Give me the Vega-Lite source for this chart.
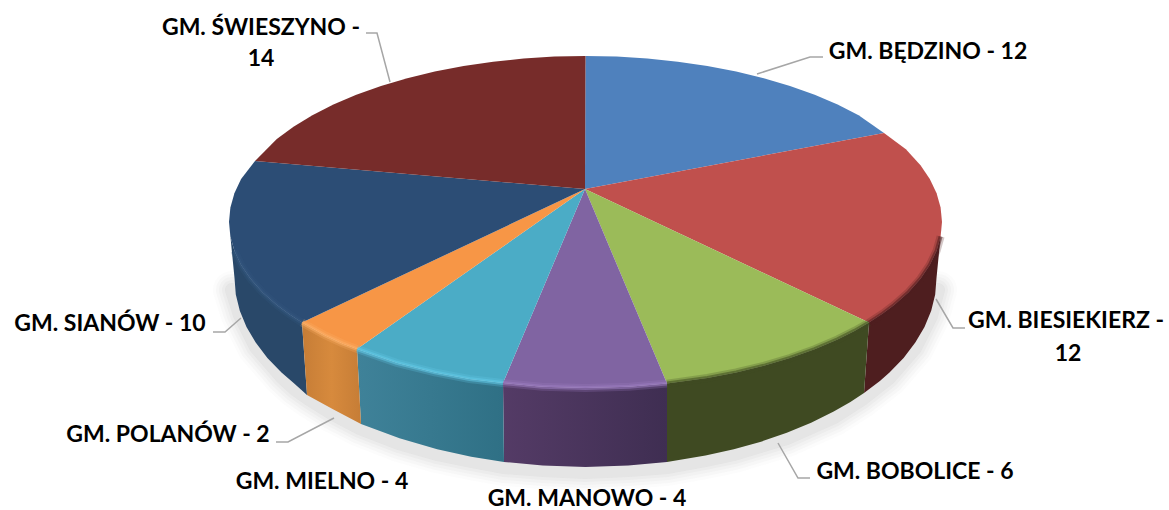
{"$schema":"https://vega.github.io/schema/vega-lite/v6.json","width":1169,"height":510,"padding":0,"autosize":{"type":"none"},"background":"white","config":{"view":{"stroke":null}},
"datasets":{
"shadow":[{"o":1,"x":232,"y":290},{"o":2,"x":240,"y":315},{"o":3,"x":256,"y":347},{"o":4,"x":282,"y":377},{"o":4.5,"x":295,"y":389},{"o":5,"x":309,"y":399},{"o":5.5,"x":333,"y":414},{"o":6,"x":360,"y":428},{"o":6.5,"x":399,"y":443},{"o":7,"x":437,"y":454},{"o":7.5,"x":471,"y":461},{"o":8,"x":504,"y":467},{"o":8.5,"x":543,"y":470},{"o":9,"x":585,"y":472},{"o":9.5,"x":628,"y":470},{"o":10,"x":667,"y":467},{"o":10.5,"x":705,"y":460},{"o":11,"x":734,"y":454},{"o":12,"x":787,"y":438},{"o":13,"x":834,"y":417},{"o":13.5,"x":862,"y":399},{"o":14,"x":889,"y":378},{"o":15,"x":915,"y":348},{"o":16,"x":931,"y":316},{"o":17,"x":938,"y":290}],
"wall":[
{"slice":"red","o":0,"x":942,"y":222},{"slice":"red","o":5,"x":940.6,"y":236.5},{"slice":"red","o":10,"x":936.6,"y":250.8},{"slice":"red","o":15,"x":929.8,"y":265},{"slice":"red","o":20,"x":920.5,"y":278.8},{"slice":"red","o":25,"x":908.6,"y":292.2},{"slice":"red","o":30,"x":894.2,"y":305},{"slice":"red","o":33.5,"x":882.8,"y":313.6},{"slice":"red","o":37,"x":869,"y":322.6},{"slice":"red","o":962.6,"x":864,"y":393},{"slice":"red","o":967,"x":879.9,"y":380.9},{"slice":"red","o":970,"x":889.5,"y":372.5},{"slice":"red","o":975,"x":903.6,"y":357.9},{"slice":"red","o":980,"x":915.3,"y":342.6},{"slice":"red","o":985,"x":924.5,"y":326.9},{"slice":"red","o":990,"x":931.2,"y":310.8},{"slice":"red","o":995,"x":935.2,"y":294.5},{"slice":"red","o":1000,"x":936.5,"y":278},
{"slice":"green","o":37,"x":869,"y":322.6},{"slice":"green","o":41,"x":854.5,"y":330.9},{"slice":"green","o":45,"x":837.6,"y":339.4},{"slice":"green","o":50,"x":814.7,"y":349.2},{"slice":"green","o":55,"x":790,"y":358},{"slice":"green","o":60,"x":763.8,"y":365.8},{"slice":"green","o":65,"x":736.2,"y":372.4},{"slice":"green","o":70,"x":707.4,"y":378},{"slice":"green","o":76.8,"x":667,"y":383.6},{"slice":"green","o":923,"x":667,"y":461.9},{"slice":"green","o":930,"x":705.5,"y":455.6},{"slice":"green","o":935,"x":733.8,"y":449.3},{"slice":"green","o":940,"x":761,"y":441.7},{"slice":"green","o":945,"x":786.8,"y":432.8},{"slice":"green","o":950,"x":811.1,"y":422.8},{"slice":"green","o":955,"x":833.7,"y":411.6},{"slice":"green","o":959,"x":850.4,"y":402},{"slice":"green","o":962.6,"x":864,"y":393},
{"slice":"purple","o":76.8,"x":667,"y":383.6},{"slice":"purple","o":83,"x":629,"y":386.8},{"slice":"purple","o":90,"x":585.5,"y":388},{"slice":"purple","o":97,"x":542,"y":386.8},{"slice":"purple","o":103.4,"x":503,"y":383},{"slice":"purple","o":896.6,"x":504,"y":462},{"slice":"purple","o":903,"x":542.7,"y":465.6},{"slice":"purple","o":910,"x":585.5,"y":467},{"slice":"purple","o":917,"x":628.3,"y":465.6},{"slice":"purple","o":923,"x":667,"y":461.9},
{"slice":"teal","o":103.4,"x":503,"y":383},{"slice":"teal","o":109,"x":469.4,"y":379},{"slice":"teal","o":115,"x":434.8,"y":372.4},{"slice":"teal","o":122,"x":396.6,"y":362.8},{"slice":"teal","o":129.9,"x":357,"y":349},{"slice":"teal","o":870,"x":361,"y":424},{"slice":"teal","o":878,"x":399.5,"y":438.3},{"slice":"teal","o":885,"x":437.2,"y":449.3},{"slice":"teal","o":891,"x":471.2,"y":456.7},{"slice":"teal","o":896.6,"x":504,"y":462},
{"slice":"orange","o":129.9,"x":357,"y":349},{"slice":"orange","o":133,"x":342.4,"y":343.4},{"slice":"orange","o":137,"x":324.8,"y":335.2},{"slice":"orange","o":142.7,"x":302,"y":322.6},{"slice":"orange","o":858,"x":307,"y":395},{"slice":"orange","o":864,"x":333,"y":409.3},{"slice":"orange","o":870,"x":361,"y":424},
{"slice":"navy","o":142.7,"x":302,"y":322.6},{"slice":"navy","o":146,"x":290,"y":314.8},{"slice":"navy","o":150,"x":276.8,"y":305},{"slice":"navy","o":155,"x":262.4,"y":292.2},{"slice":"navy","o":160,"x":250.5,"y":278.8},{"slice":"navy","o":165,"x":241.1,"y":265},{"slice":"navy","o":170,"x":234.4,"y":250.8},{"slice":"navy","o":175,"x":230.4,"y":236.5},{"slice":"navy","o":180,"x":229,"y":222},{"slice":"navy","o":820,"x":234.5,"y":278},{"slice":"navy","o":825,"x":235.8,"y":294.5},{"slice":"navy","o":830,"x":239.8,"y":310.8},{"slice":"navy","o":835,"x":246.5,"y":326.9},{"slice":"navy","o":840,"x":255.7,"y":342.6},{"slice":"navy","o":845,"x":267.4,"y":357.9},{"slice":"navy","o":850,"x":281.5,"y":372.5},{"slice":"navy","o":854,"x":294.5,"y":383.7},{"slice":"navy","o":858,"x":307,"y":395}
],
"face":[
{"slice":"blue","o":-999,"x":585,"y":189},{"slice":"blue","o":-90,"x":585.5,"y":56},{"slice":"blue","o":-85,"x":616.6,"y":56.6},{"slice":"blue","o":-80,"x":647.4,"y":58.5},{"slice":"blue","o":-75,"x":677.8,"y":61.7},{"slice":"blue","o":-70,"x":707.4,"y":66},{"slice":"blue","o":-65,"x":736.2,"y":71.6},{"slice":"blue","o":-60,"x":763.8,"y":78.2},{"slice":"blue","o":-55,"x":790,"y":86},{"slice":"blue","o":-50,"x":814.7,"y":94.8},{"slice":"blue","o":-45,"x":837.6,"y":104.6},{"slice":"blue","o":-40,"x":858.6,"y":115.3},{"slice":"blue","o":-33,"x":884,"y":133},
{"slice":"red","o":-999,"x":585,"y":189},{"slice":"red","o":-33,"x":884,"y":133},{"slice":"red","o":-26,"x":905.9,"y":149.2},{"slice":"red","o":-20,"x":920.5,"y":165.2},{"slice":"red","o":-15,"x":929.8,"y":179},{"slice":"red","o":-10,"x":936.6,"y":193.2},{"slice":"red","o":-5,"x":940.6,"y":207.5},{"slice":"red","o":0,"x":942,"y":222},{"slice":"red","o":5,"x":940.6,"y":236.5},{"slice":"red","o":10,"x":936.6,"y":250.8},{"slice":"red","o":15,"x":929.8,"y":265},{"slice":"red","o":20,"x":920.5,"y":278.8},{"slice":"red","o":25,"x":908.6,"y":292.2},{"slice":"red","o":30,"x":894.2,"y":305},{"slice":"red","o":33.5,"x":882.8,"y":313.6},{"slice":"red","o":37,"x":869,"y":322.6},
{"slice":"green","o":-999,"x":585,"y":189},{"slice":"green","o":37,"x":869,"y":322.6},{"slice":"green","o":41,"x":854.5,"y":330.9},{"slice":"green","o":45,"x":837.6,"y":339.4},{"slice":"green","o":50,"x":814.7,"y":349.2},{"slice":"green","o":55,"x":790,"y":358},{"slice":"green","o":60,"x":763.8,"y":365.8},{"slice":"green","o":65,"x":736.2,"y":372.4},{"slice":"green","o":70,"x":707.4,"y":378},{"slice":"green","o":76.8,"x":667,"y":383.6},
{"slice":"purple","o":-999,"x":585,"y":189},{"slice":"purple","o":76.8,"x":667,"y":383.6},{"slice":"purple","o":83,"x":629,"y":386.8},{"slice":"purple","o":90,"x":585.5,"y":388},{"slice":"purple","o":97,"x":542,"y":386.8},{"slice":"purple","o":103.4,"x":503,"y":383},
{"slice":"teal","o":-999,"x":585,"y":189},{"slice":"teal","o":103.4,"x":503,"y":383},{"slice":"teal","o":109,"x":469.4,"y":379},{"slice":"teal","o":115,"x":434.8,"y":372.4},{"slice":"teal","o":122,"x":396.6,"y":362.8},{"slice":"teal","o":129.9,"x":357,"y":349},
{"slice":"orange","o":-999,"x":585,"y":189},{"slice":"orange","o":129.9,"x":357,"y":349},{"slice":"orange","o":133,"x":342.4,"y":343.4},{"slice":"orange","o":137,"x":324.8,"y":335.2},{"slice":"orange","o":142.7,"x":302,"y":322.6},
{"slice":"navy","o":-999,"x":585,"y":189},{"slice":"navy","o":142.7,"x":302,"y":322.6},{"slice":"navy","o":146,"x":290,"y":314.8},{"slice":"navy","o":150,"x":276.8,"y":305},{"slice":"navy","o":155,"x":262.4,"y":292.2},{"slice":"navy","o":160,"x":250.5,"y":278.8},{"slice":"navy","o":165,"x":241.1,"y":265},{"slice":"navy","o":170,"x":234.4,"y":250.8},{"slice":"navy","o":175,"x":230.4,"y":236.5},{"slice":"navy","o":180,"x":229,"y":222},{"slice":"navy","o":185,"x":230.4,"y":207.5},{"slice":"navy","o":190,"x":234.4,"y":193.2},{"slice":"navy","o":195,"x":241.1,"y":179},{"slice":"navy","o":202,"x":255,"y":161},
{"slice":"maroon","o":-999,"x":585,"y":189},{"slice":"maroon","o":202,"x":255,"y":161},{"slice":"maroon","o":210,"x":276.8,"y":139},{"slice":"maroon","o":215,"x":293.5,"y":126.8},{"slice":"maroon","o":220,"x":312.4,"y":115.3},{"slice":"maroon","o":225,"x":333.4,"y":104.6},{"slice":"maroon","o":230,"x":356.3,"y":94.8},{"slice":"maroon","o":235,"x":381,"y":86},{"slice":"maroon","o":240,"x":407.3,"y":78.2},{"slice":"maroon","o":245,"x":434.8,"y":71.6},{"slice":"maroon","o":250,"x":463.6,"y":66},{"slice":"maroon","o":255,"x":493.2,"y":61.7},{"slice":"maroon","o":260,"x":523.6,"y":58.5},{"slice":"maroon","o":265,"x":554.4,"y":56.6},{"slice":"maroon","o":270,"x":585.5,"y":56}
],
"rim":[
{"slice":"red","o":5,"x":940.6,"y":236.5},{"slice":"red","o":10,"x":936.6,"y":250.8},{"slice":"red","o":15,"x":929.8,"y":265},{"slice":"red","o":20,"x":920.5,"y":278.8},{"slice":"red","o":25,"x":908.6,"y":292.2},{"slice":"red","o":30,"x":894.2,"y":305},{"slice":"red","o":33.5,"x":882.8,"y":313.6},{"slice":"red","o":37,"x":869,"y":322.6},
{"slice":"green","o":37,"x":869,"y":322.6},{"slice":"green","o":41,"x":854.5,"y":330.9},{"slice":"green","o":45,"x":837.6,"y":339.4},{"slice":"green","o":50,"x":814.7,"y":349.2},{"slice":"green","o":55,"x":790,"y":358},{"slice":"green","o":60,"x":763.8,"y":365.8},{"slice":"green","o":65,"x":736.2,"y":372.4},{"slice":"green","o":70,"x":707.4,"y":378},{"slice":"green","o":76.8,"x":667,"y":383.6},
{"slice":"purple","o":76.8,"x":667,"y":383.6},{"slice":"purple","o":83,"x":629,"y":386.8},{"slice":"purple","o":90,"x":585.5,"y":388},{"slice":"purple","o":97,"x":542,"y":386.8},{"slice":"purple","o":103.4,"x":503,"y":383},
{"slice":"teal","o":103.4,"x":503,"y":383},{"slice":"teal","o":109,"x":469.4,"y":379},{"slice":"teal","o":115,"x":434.8,"y":372.4},{"slice":"teal","o":122,"x":396.6,"y":362.8},{"slice":"teal","o":129.9,"x":357,"y":349},
{"slice":"orange","o":129.9,"x":357,"y":349},{"slice":"orange","o":133,"x":342.4,"y":343.4},{"slice":"orange","o":137,"x":324.8,"y":335.2},{"slice":"orange","o":142.7,"x":302,"y":322.6},
{"slice":"navy","o":142.7,"x":302,"y":322.6},{"slice":"navy","o":146,"x":290,"y":314.8},{"slice":"navy","o":150,"x":276.8,"y":305},{"slice":"navy","o":155,"x":262.4,"y":292.2},{"slice":"navy","o":160,"x":250.5,"y":278.8},{"slice":"navy","o":165,"x":241.1,"y":265},{"slice":"navy","o":170,"x":234.4,"y":250.8}
],
"leaders":[
{"g":"b","o":1,"x":757,"y":74},{"g":"b","o":2,"x":810,"y":57},{"g":"b","o":3,"x":823,"y":57},
{"g":"c","o":1,"x":936,"y":299},{"g":"c","o":2,"x":953,"y":328},{"g":"c","o":3,"x":965,"y":328},
{"g":"d","o":1,"x":778,"y":443},{"g":"d","o":2,"x":798,"y":478},{"g":"d","o":3,"x":810,"y":478},
{"g":"e","o":1,"x":241,"y":318},{"g":"e","o":2,"x":225,"y":332},{"g":"e","o":3,"x":213,"y":332},
{"g":"f","o":1,"x":334,"y":418},{"g":"f","o":2,"x":288,"y":442},{"g":"f","o":3,"x":276,"y":442},
{"g":"a","o":1,"x":390,"y":82},{"g":"a","o":2,"x":377,"y":33},{"g":"a","o":3,"x":366,"y":33}
],
"labels":[
{"gmina":"GM. BĘDZINO","value":12,"line":"GM. BĘDZINO - 12","x":928,"y":52},
{"gmina":"GM. BIESIEKIERZ","value":12,"line":"GM. BIESIEKIERZ -","x":1066,"y":321},
{"gmina":"GM. BIESIEKIERZ","value":12,"line":"12","x":1068,"y":354},
{"gmina":"GM. BOBOLICE","value":6,"line":"GM. BOBOLICE - 6","x":915,"y":472},
{"gmina":"GM. MANOWO","value":4,"line":"GM. MANOWO - 4","x":587,"y":499},
{"gmina":"GM. MIELNO","value":4,"line":"GM. MIELNO - 4","x":322,"y":482},
{"gmina":"GM. POLANÓW","value":2,"line":"GM. POLANÓW - 2","x":168,"y":435},
{"gmina":"GM. SIANÓW","value":10,"line":"GM. SIANÓW - 10","x":110,"y":324},
{"gmina":"GM. ŚWIESZYNO","value":14,"line":"GM. ŚWIESZYNO -","x":261,"y":28},
{"gmina":"GM. ŚWIESZYNO","value":14,"line":"14","x":261,"y":59}
]},
"encoding":{"x":{"field":"x","type":"quantitative","scale":{"domain":[0,1169]},"axis":null},"y":{"field":"y","type":"quantitative","scale":{"domain":[510,0]},"axis":null}},
"resolve":{"scale":{"fill":"independent","stroke":"independent"}},
"layer":[
{"data":{"name":"shadow"},"mark":{"type":"line","stroke":"#606060","strokeWidth":38,"opacity":0.02,"strokeCap":"round"},"encoding":{"order":{"field":"o"}}},
{"data":{"name":"shadow"},"mark":{"type":"line","stroke":"#606060","strokeWidth":32,"opacity":0.03,"strokeCap":"round"},"encoding":{"order":{"field":"o"}}},
{"data":{"name":"shadow"},"mark":{"type":"line","stroke":"#606060","strokeWidth":26,"opacity":0.03,"strokeCap":"round"},"encoding":{"order":{"field":"o"}}},
{"data":{"name":"shadow"},"mark":{"type":"line","stroke":"#606060","strokeWidth":20,"opacity":0.04,"strokeCap":"round"},"encoding":{"order":{"field":"o"}}},
{"data":{"name":"shadow"},"mark":{"type":"line","stroke":"#606060","strokeWidth":14,"opacity":0.05,"strokeCap":"round"},"encoding":{"order":{"field":"o"}}},
{"data":{"name":"wall"},"transform":[{"filter":"datum.slice==='red'||datum.slice==='green'||datum.slice==='navy'"}],"mark":{"type":"line","strokeWidth":0},"encoding":{"order":{"field":"o"},"fill":{"field":"slice","type":"nominal","legend":null,"scale":{"domain":["red","green","navy"],"range":["#4e1e1f","#3f4a22","#294869"]}}}},
{"data":{"name":"wall"},"transform":[{"filter":"datum.slice==='purple'"}],"mark":{"type":"line","strokeWidth":0,"fill":{"gradient":"linear","x1":0,"x2":1,"y1":0,"y2":0,"stops":[{"offset":0,"color":"#543b66"},{"offset":1,"color":"#3f2e52"}]}},"encoding":{"order":{"field":"o"}}},
{"data":{"name":"wall"},"transform":[{"filter":"datum.slice==='teal'"}],"mark":{"type":"line","strokeWidth":0,"fill":{"gradient":"linear","x1":0,"x2":1,"y1":0,"y2":0,"stops":[{"offset":0,"color":"#3f8299"},{"offset":1,"color":"#2f7085"}]}},"encoding":{"order":{"field":"o"}}},
{"data":{"name":"wall"},"transform":[{"filter":"datum.slice==='orange'"}],"mark":{"type":"line","strokeWidth":0,"fill":{"gradient":"linear","x1":0,"x2":1,"y1":0,"y2":0,"stops":[{"offset":0,"color":"#c67d36"},{"offset":0.5,"color":"#d78a3d"},{"offset":1,"color":"#c67d36"}]}},"encoding":{"order":{"field":"o"}}},
{"data":{"name":"face"},"mark":{"type":"line","strokeWidth":0},"encoding":{"order":{"field":"o"},"fill":{"field":"slice","type":"nominal","legend":null,"scale":{"domain":["blue","red","green","purple","teal","orange","navy","maroon"],"range":["#4f81bd","#c0504d","#9bbb59","#8064a2","#4bacc6","#f79646","#2c4d75","#772c2a"]}}}},
{"data":{"name":"rim"},"mark":{"type":"line","strokeWidth":8,"opacity":0.25,"strokeCap":"butt"},"encoding":{"order":{"field":"o"},"stroke":{"field":"slice","type":"nominal","legend":null,"scale":{"domain":["red","green","purple","teal","orange","navy"],"range":["#4f1e1f","#3f4a22","#9a7cbf","#63c8e6","#fbae66","#34587f"]}}}},
{"data":{"name":"rim"},"mark":{"type":"line","strokeWidth":4,"opacity":0.55,"strokeCap":"butt"},"encoding":{"order":{"field":"o"},"stroke":{"field":"slice","type":"nominal","legend":null,"scale":{"domain":["red","green","purple","teal","orange","navy"],"range":["#4f1e1f","#3f4a22","#9a7cbf","#63c8e6","#fbae66","#34587f"]}}}},
{"data":{"name":"leaders"},"mark":{"type":"line","stroke":"#a6a6a6","strokeWidth":1.5},"encoding":{"order":{"field":"o"},"detail":{"field":"g"}}},
{"data":{"name":"labels"},"mark":{"type":"text","font":"Lato","fontWeight":"bold","fontSize":23,"color":"#000000","align":"center","baseline":"middle"},"encoding":{"text":{"field":"line"}}}
]}
